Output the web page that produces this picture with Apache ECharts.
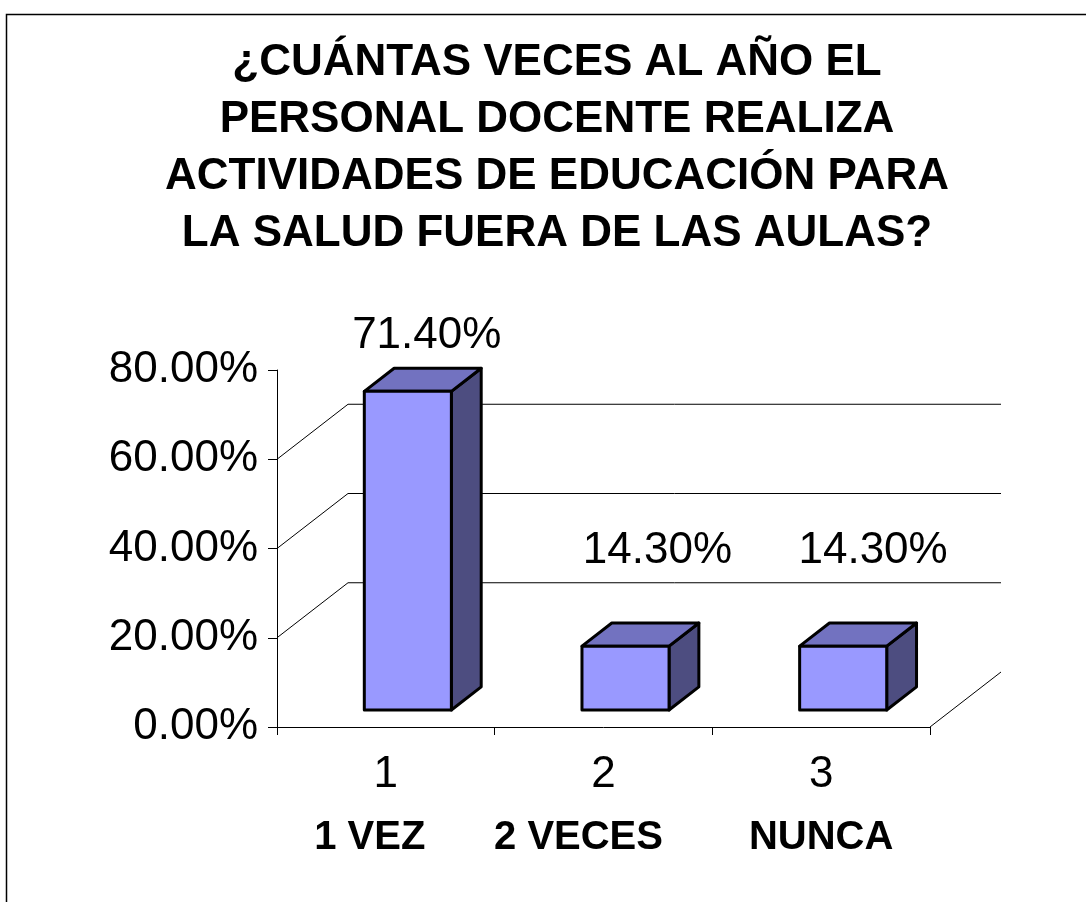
<!DOCTYPE html>
<html>
<head>
<meta charset="utf-8">
<title>Educación para la salud</title>
<script src="https://cdn.jsdelivr.net/npm/echarts@6/dist/echarts.min.js"></script>
<style>
  html, body { margin: 0; padding: 0; background: #fff; }
  #main { width: 1086px; height: 902px; }
</style>
</head>
<body>
<div id="main"></div>
<script>
var titleLines = ['¿CUÁNTAS VECES AL AÑO EL', 'PERSONAL DOCENTE REALIZA', 'ACTIVIDADES DE EDUCACIÓN PARA', 'LA SALUD FUERA DE LAS AULAS?'];
var categories = ['1', '2', '3'];
var answers = ['1 VEZ', '2 VECES', 'NUNCA'];
var values = [0.714, 0.143, 0.143];
var backGridValues = [0, 0.2, 0.4, 0.6];

var FONT = '"Liberation Sans", Arial, sans-serif';
// 3d look: depth of the plot box and where the columns sit in it
var wall = [71, -55];
var barFront = 0.31, barBack = 0.73;
var labelNudge = [[4, -32], [17, -72], [15, -72]];

function pct(v) {
  return (v * 100).toFixed(2) + '%';
}

// back wall gridlines + the diagonals going back from the axis
function renderWall(params, api) {
  var cs = params.coordSys;
  var v = api.value(1);
  var y = api.coord([0, v])[1];
  var x0 = cs.x, x1 = cs.x + cs.width;
  var st = { stroke: '#000', lineWidth: 1 };
  if (v === 0) {
    return { type: 'line', shape: { x1: x1, y1: y, x2: x1 + wall[0], y2: y + wall[1] }, style: st };
  }
  return {
    type: 'group',
    children: [
      { type: 'line', shape: { x1: x0, y1: y, x2: x0 + wall[0], y2: y + wall[1] }, style: st },
      { type: 'line', shape: { x1: x0 + wall[0], y1: y + wall[1], x2: x1 + wall[0], y2: y + wall[1] }, style: st }
    ]
  };
}

function renderBar(params, api) {
  var i = api.value(0);
  var v = api.value(1);
  var base = api.coord([i, 0]);
  var top = api.coord([i, v]);
  var w = api.size([1, 0])[0] * 0.4;
  var fx = wall[0] * barFront, fy = wall[1] * barFront;
  var bx = wall[0] * (barBack - barFront), by = wall[1] * (barBack - barFront);
  var x0 = base[0] - w / 2 + fx, x1 = x0 + w;
  var yb = base[1] + fy, yt = top[1] + fy;
  function st(fill) {
    return { fill: fill, stroke: '#000', lineWidth: 3, lineJoin: 'round' };
  }
  return {
    type: 'group',
    children: [
      { type: 'polygon', shape: { points: [[x1, yb], [x1 + bx, yb + by], [x1 + bx, yt + by], [x1, yt]] }, style: st('#4d4d80') },
      { type: 'polygon', shape: { points: [[x0, yt], [x1, yt], [x1 + bx, yt + by], [x0 + bx, yt + by]] }, style: st('#7272c0') },
      { type: 'rect', shape: { x: x0, y: yt, width: w, height: yb - yt }, style: st('#9999ff') },
      {
        type: 'text',
        x: x0 + w / 2 + bx / 2 + labelNudge[i][0],
        y: yt + by + labelNudge[i][1],
        style: { text: pct(v), font: '44px ' + FONT, fill: '#000', align: 'center', verticalAlign: 'middle' }
      }
    ]
  };
}

var chart = echarts.init(document.getElementById('main'));
chart.setOption({
  backgroundColor: '#fff',
  animation: false,
  title: {
    text: titleLines.join('\n'),
    left: 557,
    top: 34,
    padding: 0,
    textAlign: 'center',
    textStyle: { fontFamily: FONT, fontSize: 44, fontWeight: 'bold', lineHeight: 57, color: '#000' }
  },
  graphic: [{
    type: 'rect',
    left: 4,
    top: 12,
    shape: { width: 1200, height: 1000 },
    style: { fill: 'none', stroke: '#000', lineWidth: 1.5 },
    silent: true
  }],
  grid: { left: 277, top: 370, width: 653, height: 357 },
  xAxis: {
    type: 'category',
    data: categories,
    axisLine: { lineStyle: { color: '#000', width: 1 } },
    axisTick: { show: true, length: 8, lineStyle: { color: '#000' } },
    axisLabel: {
      margin: 16,
      color: '#000',
      formatter: function (value, index) {
        return '{a|' + value + '}\n{b' + index + '|' + answers[index] + '}';
      },
      rich: {
        a: { fontFamily: FONT, fontSize: 44, lineHeight: 63, color: '#000' },
        b0: { fontFamily: FONT, fontSize: 40, fontWeight: 'bold', lineHeight: 63, color: '#000', padding: [0, 32, 0, 0] },
        b1: { fontFamily: FONT, fontSize: 40, fontWeight: 'bold', lineHeight: 63, color: '#000', padding: [0, 50, 0, 0] },
        b2: { fontFamily: FONT, fontSize: 40, fontWeight: 'bold', lineHeight: 63, color: '#000' }
      }
    }
  },
  yAxis: {
    type: 'value',
    min: 0,
    max: 0.8,
    interval: 0.2,
    axisLine: { show: true, lineStyle: { color: '#000', width: 1 } },
    axisTick: { show: true, length: 9, lineStyle: { color: '#000' } },
    splitLine: { show: false },
    axisLabel: { margin: 19, color: '#000', fontFamily: FONT, fontSize: 44, formatter: pct }
  },
  series: [
    {
      type: 'custom',
      renderItem: renderWall,
      data: backGridValues.map(function (v) { return [0, v]; }),
      encode: { x: 0, y: 1 },
      silent: true,
      z: 1
    },
    {
      type: 'custom',
      renderItem: renderBar,
      data: values.map(function (v, i) { return [i, v]; }),
      encode: { x: 0, y: 1 },
      z: 2
    }
  ]
});
</script>
</body>
</html>
